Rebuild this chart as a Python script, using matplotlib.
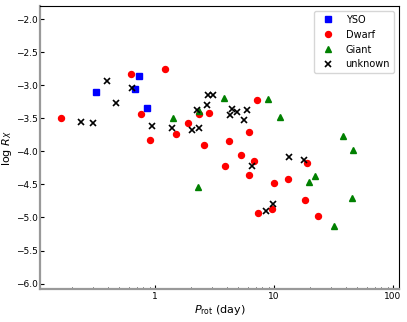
import numpy as np
import matplotlib.pyplot as plt

# rotation period (day) and log R_X
yso_p = [0.319, 0.734, 0.683, 0.857]
yso_r = [-3.10, -2.853, -3.059, -3.347]

dwarf_p = [0.162, 0.625, 0.758, 0.908, 1.21, 1.51, 1.905, 2.36, 2.59, 2.84,
           3.9, 4.2, 5.25, 6.13, 6.2, 6.83, 7.24, 7.38, 9.68, 10.06,
           13.2, 18.3, 18.8, 23.4]
dwarf_r = [-3.494, -2.827, -3.43, -3.823, -2.752, -3.73, -3.57, -3.433, -3.898, -3.418,
           -4.22, -3.84, -4.06, -4.358, -3.70, -4.145, -3.226, -4.93, -4.877, -4.483,
           -4.42, -4.736, -4.175, -4.98]

giant_p = [1.41, 2.36, 2.31, 3.8, 8.96, 11.2, 19.7, 22.1, 32.1, 38.2, 45.0, 45.8]
giant_r = [-3.499, -3.388, -4.535, -3.196, -3.21, -3.483, -4.469, -4.373, -5.13, -3.767,
           -4.711, -3.979]

unk_p = [0.24, 0.303, 0.393, 0.468, 0.645, 0.949, 1.397, 2.06, 2.34, 2.25,
         2.72, 2.78, 3.06, 4.27, 4.44, 4.86, 5.63, 5.89, 6.58, 8.61,
         9.81, 13.4, 17.8]
unk_r = [-3.555, -3.575, -2.929, -3.271, -3.035, -3.61, -3.641, -3.67, -3.641, -3.373,
         -3.297, -3.145, -3.14, -3.448, -3.358, -3.408, -3.529, -3.373, -4.221, -4.903,
         -4.792, -4.08, -4.135]

plt.rcParams['font.size'] = 6.5

fig = plt.figure(figsize=(4.07, 3.22), dpi=100)
ax = fig.add_axes([0.0995, 0.101, 0.8805, 0.880])

ax.plot(yso_p, yso_r, 's', color='blue', ms=4, label='YSO')
ax.plot(dwarf_p, dwarf_r, 'o', color='red', ms=4.3, label='Dwarf')
ax.plot(giant_p, giant_r, '^', color='green', ms=4.3, label='Giant')
ax.plot(unk_p, unk_r, 'x', color='black', ms=4, mew=1.2, label='unknown')

ax.set_xscale('log')
ax.set_xlim(0.109, 112)
ax.set_ylim(-6.09, -1.8)
ax.set_xticks([1, 10, 100])
ax.set_xticklabels(['1', '10', '100'])
ax.set_yticks(np.arange(-6.0, -1.9, 0.5))

ax.tick_params(direction='in', which='both', length=3, pad=2, labelsize=6.5)
ax.tick_params(which='minor', length=1.5)
for s in ['left', 'bottom']:
    ax.spines[s].set_color('#999999')
    ax.spines[s].set_linewidth(1.6)

ax.set_xlabel(r'$P_{\rm rot}$ (day)', fontsize=8, labelpad=1)
ax.set_ylabel(r'$\log\,R_X$', fontsize=8, labelpad=1)
ax.legend(loc='upper right', fontsize=7)

fig.savefig('out.png')
